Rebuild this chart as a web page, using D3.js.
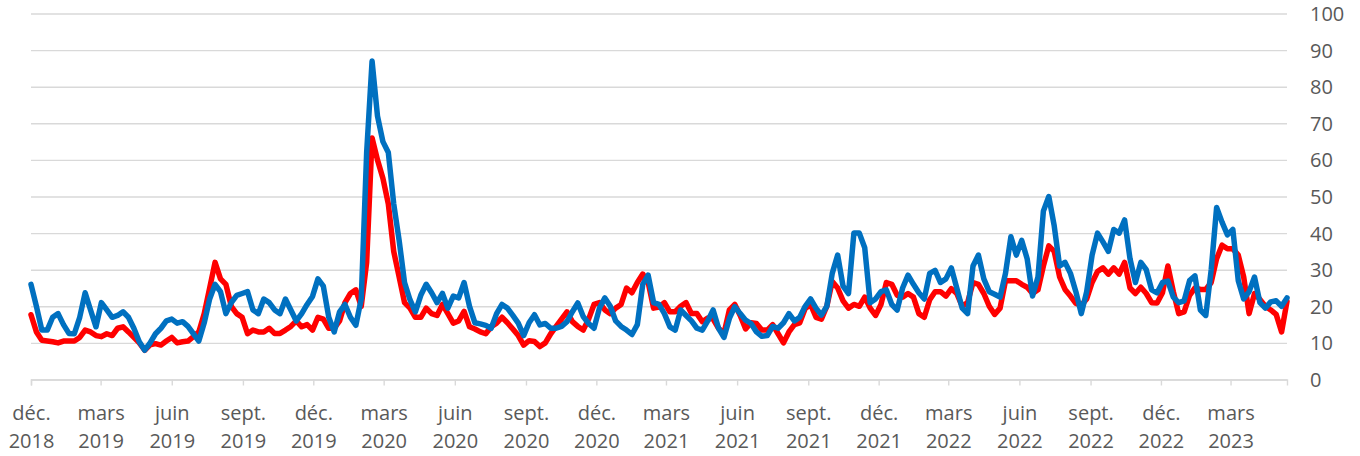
<!DOCTYPE html>
<html>
<head>
<meta charset="utf-8">
<script src="https://cdn.jsdelivr.net/npm/d3@7"></script>
<style>
  body{ margin:0; background:#fff; }
  #chart text{ font-family:"Open Sans", Arial, sans-serif; font-size:20px; fill:#595959; }
</style>
</head>
<body>
<div id="chart"></div>
<script>
// weekly observations, first one on 1 Dec 2018
var startDate = new Date(2018, 11, 1);

var redValues = [
  17.7, 13, 10.7, 10.5, 10.3, 10, 10.5, 10.5, 10.5, 11.5,
  13.5, 13, 12, 11.7, 12.5, 12, 14, 14.4, 13, 11.5,
  10, 8, 9.5, 9.8, 9.4, 10.5, 11.5, 10, 10.3, 10.5,
  11.7, 13, 18, 25, 32, 27.5, 26, 20, 18, 17,
  12.5, 13.5, 13, 13, 14, 12.6, 12.6, 13.5, 14.5, 16,
  14.4, 15, 13.5, 17, 16.5, 14, 14, 16, 21, 23.5,
  24.5, 20, 32, 66, 60, 55, 48, 35, 28, 21,
  19.5, 17, 17, 19.5, 18, 17.5, 20.5, 18, 15.4, 16,
  18.6, 14.4, 13.8, 13, 12.5, 14.4, 15.4, 17, 15.5, 13.8,
  12, 9.4, 10.6, 10.4, 9, 10, 12.5, 14.5, 16.5, 18.5,
  15.8, 14.5, 13.5, 16.5, 20.5, 21, 19, 18, 19.5, 20.5,
  25, 23.7, 26.5, 28.8, 26.5, 19.5, 19.8, 21, 18.5, 18.5,
  20, 21, 18, 18, 15.8, 16.8, 16.5, 14, 12.6, 19,
  20.5, 17.5, 13.8, 15.5, 15.3, 13.5, 13.5, 15, 12.5, 10,
  13, 15, 15.5, 19.4, 20.5, 17, 16.5, 20, 26.8, 25,
  21.5, 19.5, 20.5, 20, 22.5, 19.5, 17.5, 20.5, 26.5, 26,
  23, 22.5, 23.5, 22.5, 18, 17, 21.8, 24, 24, 22.8,
  24.8, 23.5, 20, 21, 26.5, 26, 23.5, 20, 17.8, 19.5,
  27, 27, 27, 26, 25.2, 23.5, 24.5, 31, 36.5, 35,
  28, 24.6, 22.8, 20.8, 20.3, 22, 26.5, 29.5, 30.5, 28.8,
  30.5, 28.8, 32, 25, 23.5, 25.2, 23.5, 21, 20.9, 23.7,
  31, 24, 18, 18.5, 23, 25, 24.6, 24.6, 26.5, 33,
  36.7, 35.7, 35.7, 34, 28, 18, 23.5, 21.9, 20, 19,
  17.8, 13, 21.4
];

var blueValues = [
  26, 20, 13.5, 13.5, 17, 18, 15, 12.6, 12.5, 17,
  23.7, 19, 14.4, 21, 19, 17, 17.5, 18.5, 17, 14,
  10.3, 8, 10, 12.5, 14, 16, 16.5, 15.4, 15.8, 14.5,
  12.5, 10.5, 15.5, 22, 26, 24, 18, 21, 23, 23.5,
  24, 19, 18, 22, 21, 19, 18, 22, 19, 16,
  18, 20.5, 22.7, 27.5, 25.5, 17, 13, 18.5, 20.5, 17,
  14.8, 22, 62, 87, 72, 65, 62, 48, 38, 26.5,
  21.8, 18.5, 23, 26, 23.7, 21, 23.5, 19.5, 22.8, 22.3,
  26.5, 20, 15.5, 15.2, 14.8, 14, 18, 20.5, 19.5, 17.5,
  15.4, 12, 15.5, 17.7, 14.9, 15.3, 14, 14, 14.5, 15.8,
  18.5, 20.9, 17.2, 15.3, 14, 19.5, 22.3, 20, 16, 14.5,
  13.5, 12.3, 15, 26, 28.5, 21, 20.5, 18, 14.4, 13.5,
  19, 17.5, 16, 14, 13.5, 16, 19, 14, 11.5, 16.7,
  19.9, 18, 16.2, 15.3, 13, 11.8, 12, 14.5, 14, 15.5,
  18, 16, 17, 20, 22, 19.5, 17.6, 20, 29, 34,
  25.5, 23.5, 40, 40, 36, 21, 22, 24, 24.5, 20.5,
  19, 25, 28.5, 26, 23.7, 22, 29, 29.8, 26.5, 27.5,
  30.5, 25, 19.5, 18, 31, 34, 27.5, 24, 23.3, 22.5,
  29, 39, 34, 38, 33, 22.8, 28, 46, 50, 42,
  31, 32, 29, 24, 18, 24, 34, 40, 37.6, 35,
  41, 40, 43.6, 33, 26.5, 32, 30, 24.5, 23.7, 26.5,
  26.9, 22.5, 21, 21.5, 27, 28.3, 19, 17.5, 30, 47,
  43, 39.5, 41, 27, 22, 24, 28, 21, 19.5, 21.2,
  21.5, 20, 22.3
];

var yTicks = [0, 10, 20, 30, 40, 50, 60, 70, 80, 90, 100];
var seriesColors = ["#ff0000", "#0070c0"];

// french month abbreviations for the axis
var fr = d3.timeFormatLocale({
  dateTime: "%A %e %B %Y à %X", date: "%d/%m/%Y", time: "%H:%M:%S",
  periods: ["AM", "PM"],
  days: ["dimanche","lundi","mardi","mercredi","jeudi","vendredi","samedi"],
  shortDays: ["dim.","lun.","mar.","mer.","jeu.","ven.","sam."],
  months: ["janvier","février","mars","avril","mai","juin","juillet","août","septembre","octobre","novembre","décembre"],
  shortMonths: ["janv.","févr.","mars","avr.","mai","juin","juil.","août","sept.","oct.","nov.","déc."]
});
var fmtMonth = fr.format("%b");
var fmtYear = fr.format("%Y");

var width = 1360, height = 456;
var margin = {top: 13.5, right: 73, bottom: 76.5, left: 31};
var innerW = width - margin.left - margin.right;
var innerH = height - margin.top - margin.bottom;

var dates = redValues.map(function(d, i){ return d3.timeDay.offset(startDate, 7 * i); });

var x = d3.scaleTime()
    .domain([startDate, dates[dates.length - 1]])
    .range([0, innerW]);

var y = d3.scaleLinear()
    .domain([0, 100])
    .range([innerH, 0]);

var svg = d3.select("#chart").append("svg")
    .attr("width", width)
    .attr("height", height)
    .append("g")
    .attr("transform", "translate(" + margin.left + "," + margin.top + ")");

//horizontal gridlines
svg.append("g")
    .attr("class", "grid")
    .call(d3.axisLeft(y).tickValues(yTicks).tickSize(-innerW).tickFormat(""))
    .call(function(g){
      g.select(".domain").remove();
      g.selectAll("line").attr("stroke", "#d9d9d9").attr("stroke-width", 1.4);
    });

//y labels on the right
svg.append("g")
    .attr("transform", "translate(" + innerW + ",0)")
    .call(d3.axisRight(y).tickValues(yTicks).tickSize(0).tickPadding(23))
    .call(function(g){
      g.select(".domain").remove();
      g.selectAll("text").attr("dy", "0.35em");
    });

//x axis, one tick every 3 months starting from dec. 2018
var quarterTicks = d3.timeMonth.range(startDate, d3.timeDay.offset(dates[dates.length - 1], 1), 3);

var xAxis = svg.append("g")
    .attr("transform", "translate(0," + innerH + ")")
    .call(d3.axisBottom(x).tickValues(quarterTicks).tickSize(6).tickFormat(""));

xAxis.select(".domain").attr("stroke", "#d9d9d9").attr("stroke-width", 1.4);
xAxis.selectAll(".tick line").attr("stroke", "#d9d9d9").attr("stroke-width", 1.4);

var lbl = xAxis.selectAll(".tick").append("text")
    .attr("text-anchor", "middle")
    .attr("fill", "#595959");
lbl.append("tspan").attr("x", 0).attr("y", 40).text(function(d){ return fmtMonth(d); });
lbl.append("tspan").attr("x", 0).attr("y", 68).text(function(d){ return fmtYear(d); });

//the two series, red under blue
var line = d3.line()
    .x(function(d){ return x(d[0]); })
    .y(function(d){ return y(d[1]); });

[redValues, blueValues].forEach(function(vals, k){
  svg.append("path")
      .datum(vals.map(function(v, i){ return [dates[i], v]; }))
      .attr("fill", "none")
      .attr("stroke", seriesColors[k])
      .attr("stroke-width", 5.5)
      .attr("stroke-linejoin", "round")
      .attr("stroke-linecap", "round")
      .attr("d", line);
});
</script>
</body>
</html>
